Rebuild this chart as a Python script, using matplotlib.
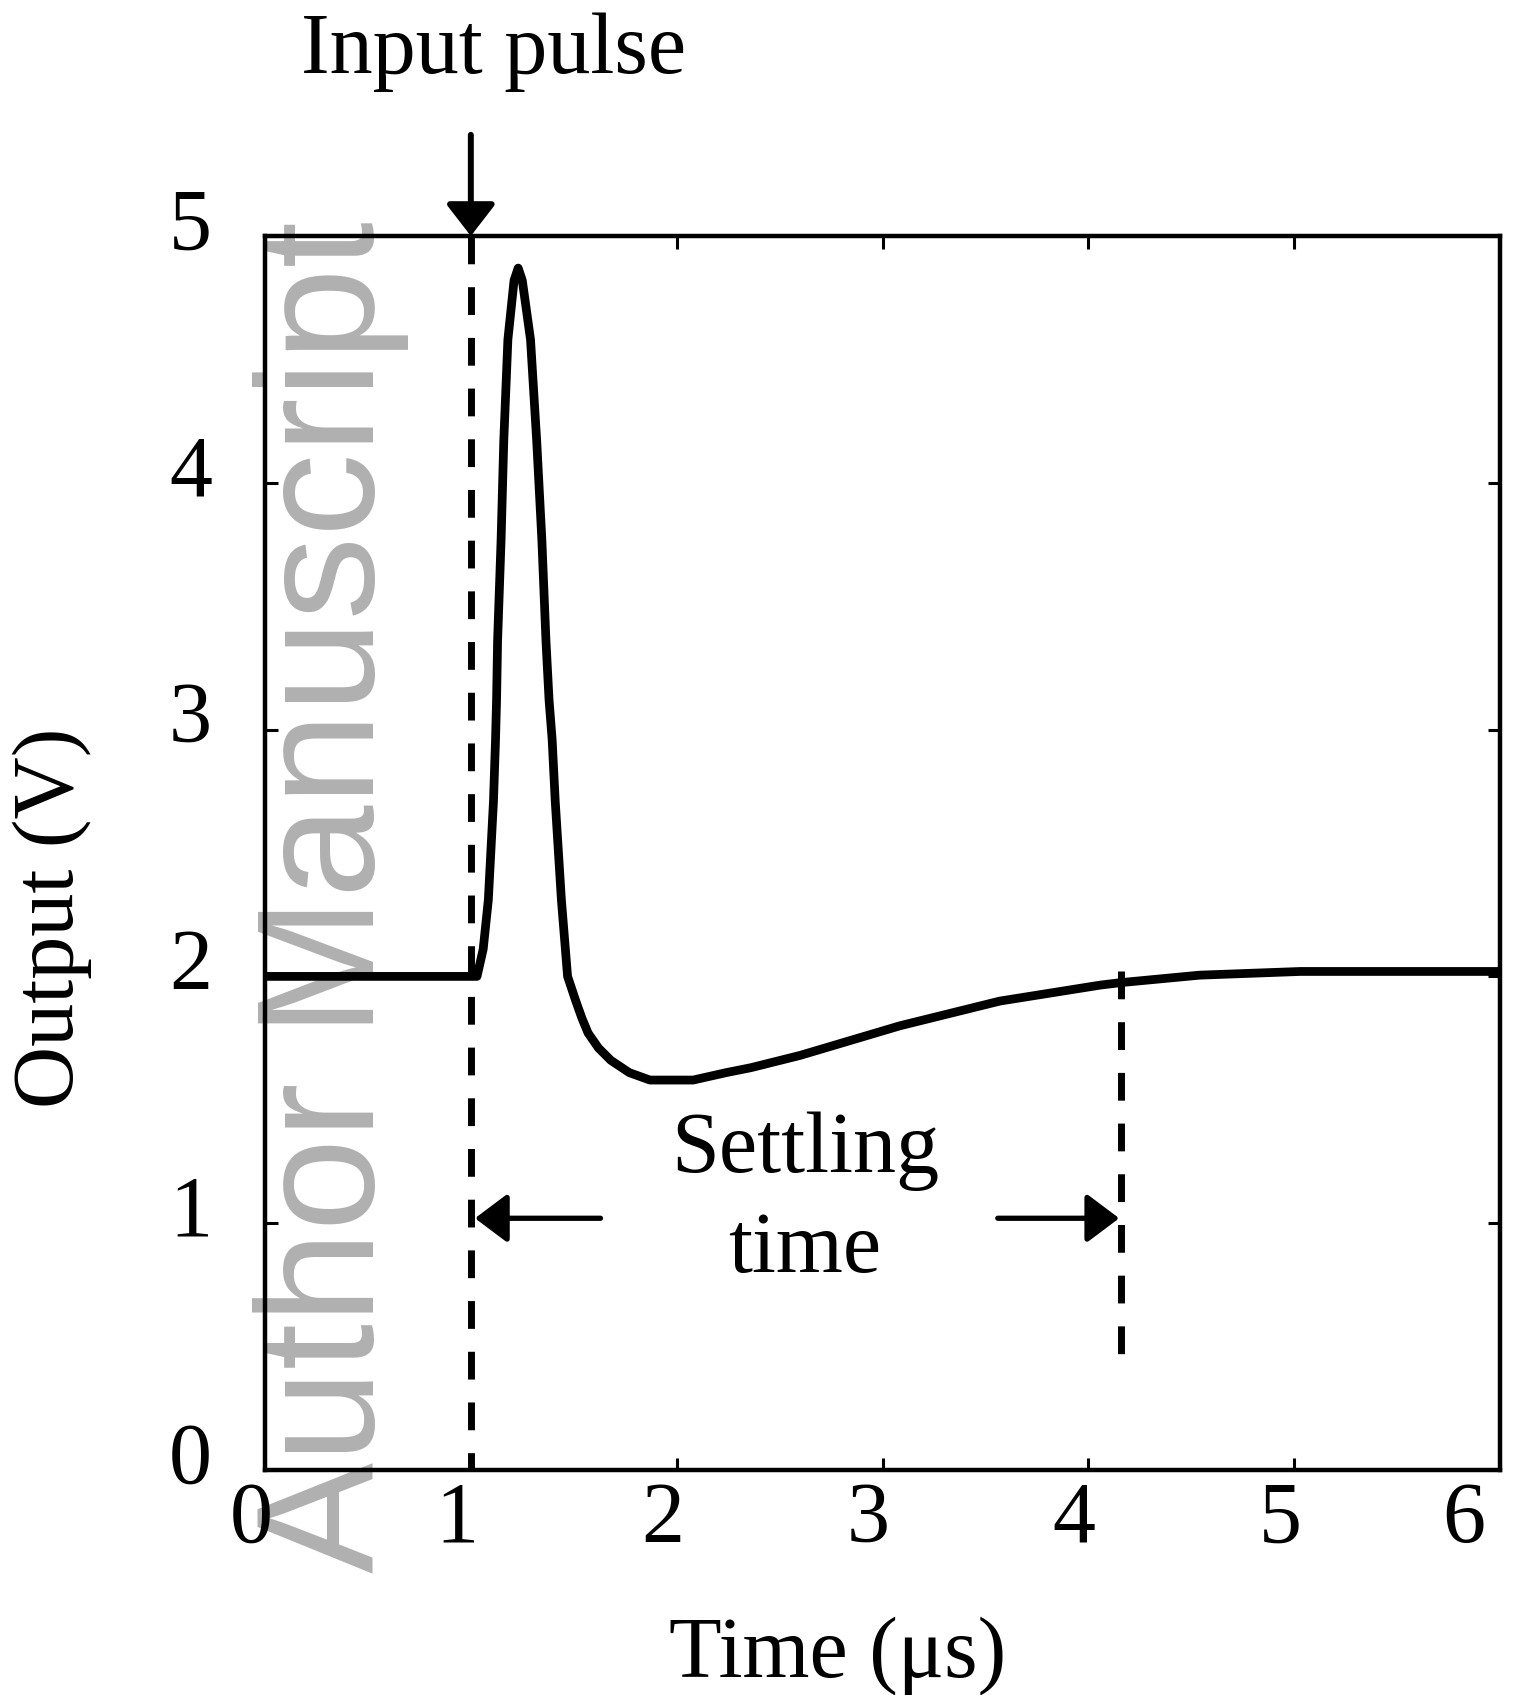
import matplotlib
matplotlib.use("Agg")
import matplotlib.pyplot as plt
from matplotlib.transforms import ScaledTranslation

# ---- data ----
time_us = [0.0, 1.0, 1.03, 1.06, 1.085, 1.11, 1.12, 1.125, 1.13, 1.147, 1.16, 1.18,
           1.21, 1.23, 1.25, 1.29, 1.32, 1.345, 1.365, 1.38, 1.395, 1.41, 1.44, 1.47,
           1.51, 1.54, 1.57, 1.62, 1.68, 1.77, 1.87, 2.08, 2.24, 2.36, 2.60, 3.085,
           3.57, 4.06, 4.16, 4.54, 5.03, 6.0]
output_v = [2.0, 2.0, 2.0, 2.11, 2.31, 2.71, 2.96, 3.12, 3.36, 3.77, 4.17, 4.58,
            4.82, 4.87, 4.82, 4.58, 4.17, 3.77, 3.36, 3.12, 2.96, 2.71, 2.31, 2.0,
            1.90, 1.83, 1.77, 1.71, 1.66, 1.61, 1.58, 1.58, 1.61, 1.63, 1.68, 1.80,
            1.90, 1.965, 1.975, 2.005, 2.02, 2.02]

x_ticks = [0, 1, 2, 3, 4, 5, 6]
y_ticks = [0, 1, 2, 3, 4, 5]
pulse_time = 1.0
settle_end_time = 4.16
settle_marker_range = [2.02, 0.47]
settle_arrow_y = 1.02
settle_arrow_left = [1.63, 1.02]
settle_arrow_right = [3.56, 4.15]
input_arrow_top = 5.41

SERIF = ["Liberation Serif", "DejaVu Serif"]

fig = plt.figure(figsize=(15.14, 16.95), dpi=100)
W, H = 1514, 1695
ax = fig.add_axes([265 / W, 1 - 1470 / H, (1500 - 265) / W, (1470 - 236) / H])

# watermark (behind everything)
fig.text(374 / W, 1 - 897 / H, "Author Manuscript", rotation=90, rotation_mode="anchor",
         ha="center", va="baseline", fontsize=120, color="#b0b0b0",
         family=["Liberation Sans", "DejaVu Sans"], zorder=-10)
ax.set_facecolor("none")
ax.set_zorder(2)

# main curve
ax.plot(time_us, output_v, color="black", lw=6.3, solid_joinstyle="round",
        solid_capstyle="butt", zorder=3, clip_on=False)

# dashed markers
dash = (0, (4.0, 3.3))
ax.plot([pulse_time, pulse_time], [5, 0], color="black", lw=5, linestyle=dash, zorder=2)
ax.plot([settle_end_time, settle_end_time], settle_marker_range, color="black", lw=5,
        linestyle=dash, zorder=2)

# input pulse arrow
ax.annotate("", xy=(pulse_time, 5.0), xytext=(pulse_time, input_arrow_top),
            xycoords="data", textcoords="data", annotation_clip=False,
            arrowprops=dict(arrowstyle="-|>,head_length=1.94,head_width=1.5",
                            mutation_scale=10, lw=4.3, color="black",
                            shrinkA=0, shrinkB=0))
fig.text(494 / W, 1 - 73 / H, "Input pulse", ha="center", va="baseline",
         fontsize=62, family=SERIF)

# settling time arrows
for xs in (settle_arrow_left, settle_arrow_right):
    ax.annotate("", xy=(xs[1], settle_arrow_y), xytext=(xs[0], settle_arrow_y),
                xycoords="data", textcoords="data",
                arrowprops=dict(arrowstyle="-|>,head_length=2.0,head_width=1.5",
                                mutation_scale=10, lw=3.8, color="black",
                                shrinkA=0, shrinkB=0))
fig.text(805 / W, 1 - 1172 / H, "Settling", ha="center", va="baseline",
         fontsize=62, family=SERIF)
fig.text(805 / W, 1 - 1272 / H, "time", ha="center", va="baseline",
         fontsize=62, family=SERIF)

# axes styling
ax.set_xlim(0, 6)
ax.set_ylim(0, 5)
ax.set_xticks(x_ticks)
ax.set_yticks(y_ticks)
ax.set_xticklabels([str(v) for v in x_ticks])
ax.set_yticklabels([str(v) for v in y_ticks])
for s in ax.spines.values():
    s.set_linewidth(3.2)
    s.set_zorder(4)
ax.tick_params(direction="in", length=9, width=2.2, top=True, right=True,
               labelsize=62)
ax.tick_params(axis="y", pad=38)
ax.tick_params(axis="x", pad=8)
for lab in ax.get_xticklabels() + ax.get_yticklabels():
    lab.set_family(SERIF)

for lab in ax.get_yticklabels():
    lab.set_transform(lab.get_transform() + ScaledTranslation(0, 0.18, fig.dpi_scale_trans))
xl = ax.get_xticklabels()
for i, lab in enumerate(xl):
    dx = -0.14 if i < len(xl) - 1 else -0.36
    lab.set_transform(lab.get_transform() + ScaledTranslation(dx, 0, fig.dpi_scale_trans))

fig.text(52 / W, 1 - 918 / H, "Output (V)", rotation=90, ha="center", va="center",
         fontsize=62, family=SERIF)
fig.text(838 / W, 1 - 1677 / H, "Time (\u03bcs)", ha="center", va="baseline",
         fontsize=62, family=SERIF)

fig.savefig("out.png", dpi=100, facecolor="white")
